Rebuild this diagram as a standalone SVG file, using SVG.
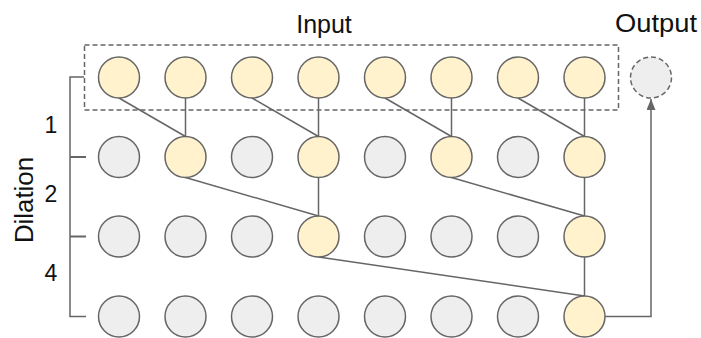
<svg xmlns="http://www.w3.org/2000/svg" width="701" height="338" viewBox="0 0 701 338">
<defs>
<style>
.y{fill:#fff2cc;stroke:#666;stroke-width:1.5}
.g{fill:#eeeeee;stroke:#666;stroke-width:1.5}
.c{stroke:#666;stroke-width:1.5;fill:none}
.t{font-family:"Liberation Sans",Arial,sans-serif;font-size:25px;fill:#111}
.n{font-family:"Liberation Sans",Arial,sans-serif;font-size:23px;fill:#111}
</style>
<marker id="ah" markerWidth="11" markerHeight="9" refX="11" refY="4.5" orient="auto" markerUnits="userSpaceOnUse" viewBox="0 0 11 9">
<path d="M0,0 L11,4.5 L0,9 Z" fill="#666"/>
</marker>
</defs>
<rect x="0" y="0" width="701" height="338" fill="#fff"/>
<text class="t" x="324" y="33" text-anchor="middle">Input</text>
<text class="t" x="656" y="32" text-anchor="middle" textLength="82" lengthAdjust="spacingAndGlyphs">Output</text>
<text class="n" x="51" y="133" text-anchor="middle">1</text>
<text class="n" x="51" y="202" text-anchor="middle">2</text>
<text class="n" x="51" y="281" text-anchor="middle">4</text>
<text class="t" transform="translate(33,200) rotate(-90)" text-anchor="middle" textLength="86" lengthAdjust="spacingAndGlyphs">Dilation</text>
<g id="bracket" class="c">
<path d="M84,77 H70 V316.5 H86"/>
<path d="M70,157 H86" stroke-width="2"/>
<path d="M70,236.5 H86" stroke-width="2"/>
</g>
<rect id="input-box" x="84.5" y="45" width="534" height="65" fill="none" stroke="#666" stroke-width="1.5" stroke-dasharray="5,3"/>
<g id="connectors" class="c">
<line x1="119" y1="98" x2="185.5" y2="136.5"/>
<line x1="185.5" y1="98" x2="185.5" y2="136.5"/>
<line x1="252" y1="98" x2="318.5" y2="136.5"/>
<line x1="318.5" y1="98" x2="318.5" y2="136.5"/>
<line x1="385" y1="98" x2="451.5" y2="136.5"/>
<line x1="451.5" y1="98" x2="451.5" y2="136.5"/>
<line x1="518" y1="98" x2="584.5" y2="136.5"/>
<line x1="584.5" y1="98" x2="584.5" y2="136.5"/>
<line x1="185.5" y1="177.5" x2="318.5" y2="216"/>
<line x1="318.5" y1="177.5" x2="318.5" y2="216"/>
<line x1="451.5" y1="177.5" x2="584.5" y2="216"/>
<line x1="584.5" y1="177.5" x2="584.5" y2="216"/>
<line x1="318.5" y1="257" x2="584.5" y2="296"/>
<line x1="584.5" y1="257" x2="584.5" y2="296"/>
<path d="M605,316.5 H651 V99" marker-end="url(#ah)"/>
</g>
<g id="row0">
<circle class="y" cx="119" cy="77.5" r="20.5"/>
<circle class="y" cx="185.5" cy="77.5" r="20.5"/>
<circle class="y" cx="252" cy="77.5" r="20.5"/>
<circle class="y" cx="318.5" cy="77.5" r="20.5"/>
<circle class="y" cx="385" cy="77.5" r="20.5"/>
<circle class="y" cx="451.5" cy="77.5" r="20.5"/>
<circle class="y" cx="518" cy="77.5" r="20.5"/>
<circle class="y" cx="584.5" cy="77.5" r="20.5"/>
</g>
<g id="output">
<circle cx="651" cy="77.5" r="20.5" fill="#eeeeee" stroke="#666" stroke-width="1.5" stroke-dasharray="5,3"/>
</g>
<g id="row1">
<circle class="g" cx="119" cy="157" r="20.5"/>
<circle class="y" cx="185.5" cy="157" r="20.5"/>
<circle class="g" cx="252" cy="157" r="20.5"/>
<circle class="y" cx="318.5" cy="157" r="20.5"/>
<circle class="g" cx="385" cy="157" r="20.5"/>
<circle class="y" cx="451.5" cy="157" r="20.5"/>
<circle class="g" cx="518" cy="157" r="20.5"/>
<circle class="y" cx="584.5" cy="157" r="20.5"/>
</g>
<g id="row2">
<circle class="g" cx="119" cy="236.5" r="20.5"/>
<circle class="g" cx="185.5" cy="236.5" r="20.5"/>
<circle class="g" cx="252" cy="236.5" r="20.5"/>
<circle class="y" cx="318.5" cy="236.5" r="20.5"/>
<circle class="g" cx="385" cy="236.5" r="20.5"/>
<circle class="g" cx="451.5" cy="236.5" r="20.5"/>
<circle class="g" cx="518" cy="236.5" r="20.5"/>
<circle class="y" cx="584.5" cy="236.5" r="20.5"/>
</g>
<g id="row3">
<circle class="g" cx="119" cy="316.5" r="20.5"/>
<circle class="g" cx="185.5" cy="316.5" r="20.5"/>
<circle class="g" cx="252" cy="316.5" r="20.5"/>
<circle class="g" cx="318.5" cy="316.5" r="20.5"/>
<circle class="g" cx="385" cy="316.5" r="20.5"/>
<circle class="g" cx="451.5" cy="316.5" r="20.5"/>
<circle class="g" cx="518" cy="316.5" r="20.5"/>
<circle class="y" cx="584.5" cy="316.5" r="20.5"/>
</g>
</svg>
